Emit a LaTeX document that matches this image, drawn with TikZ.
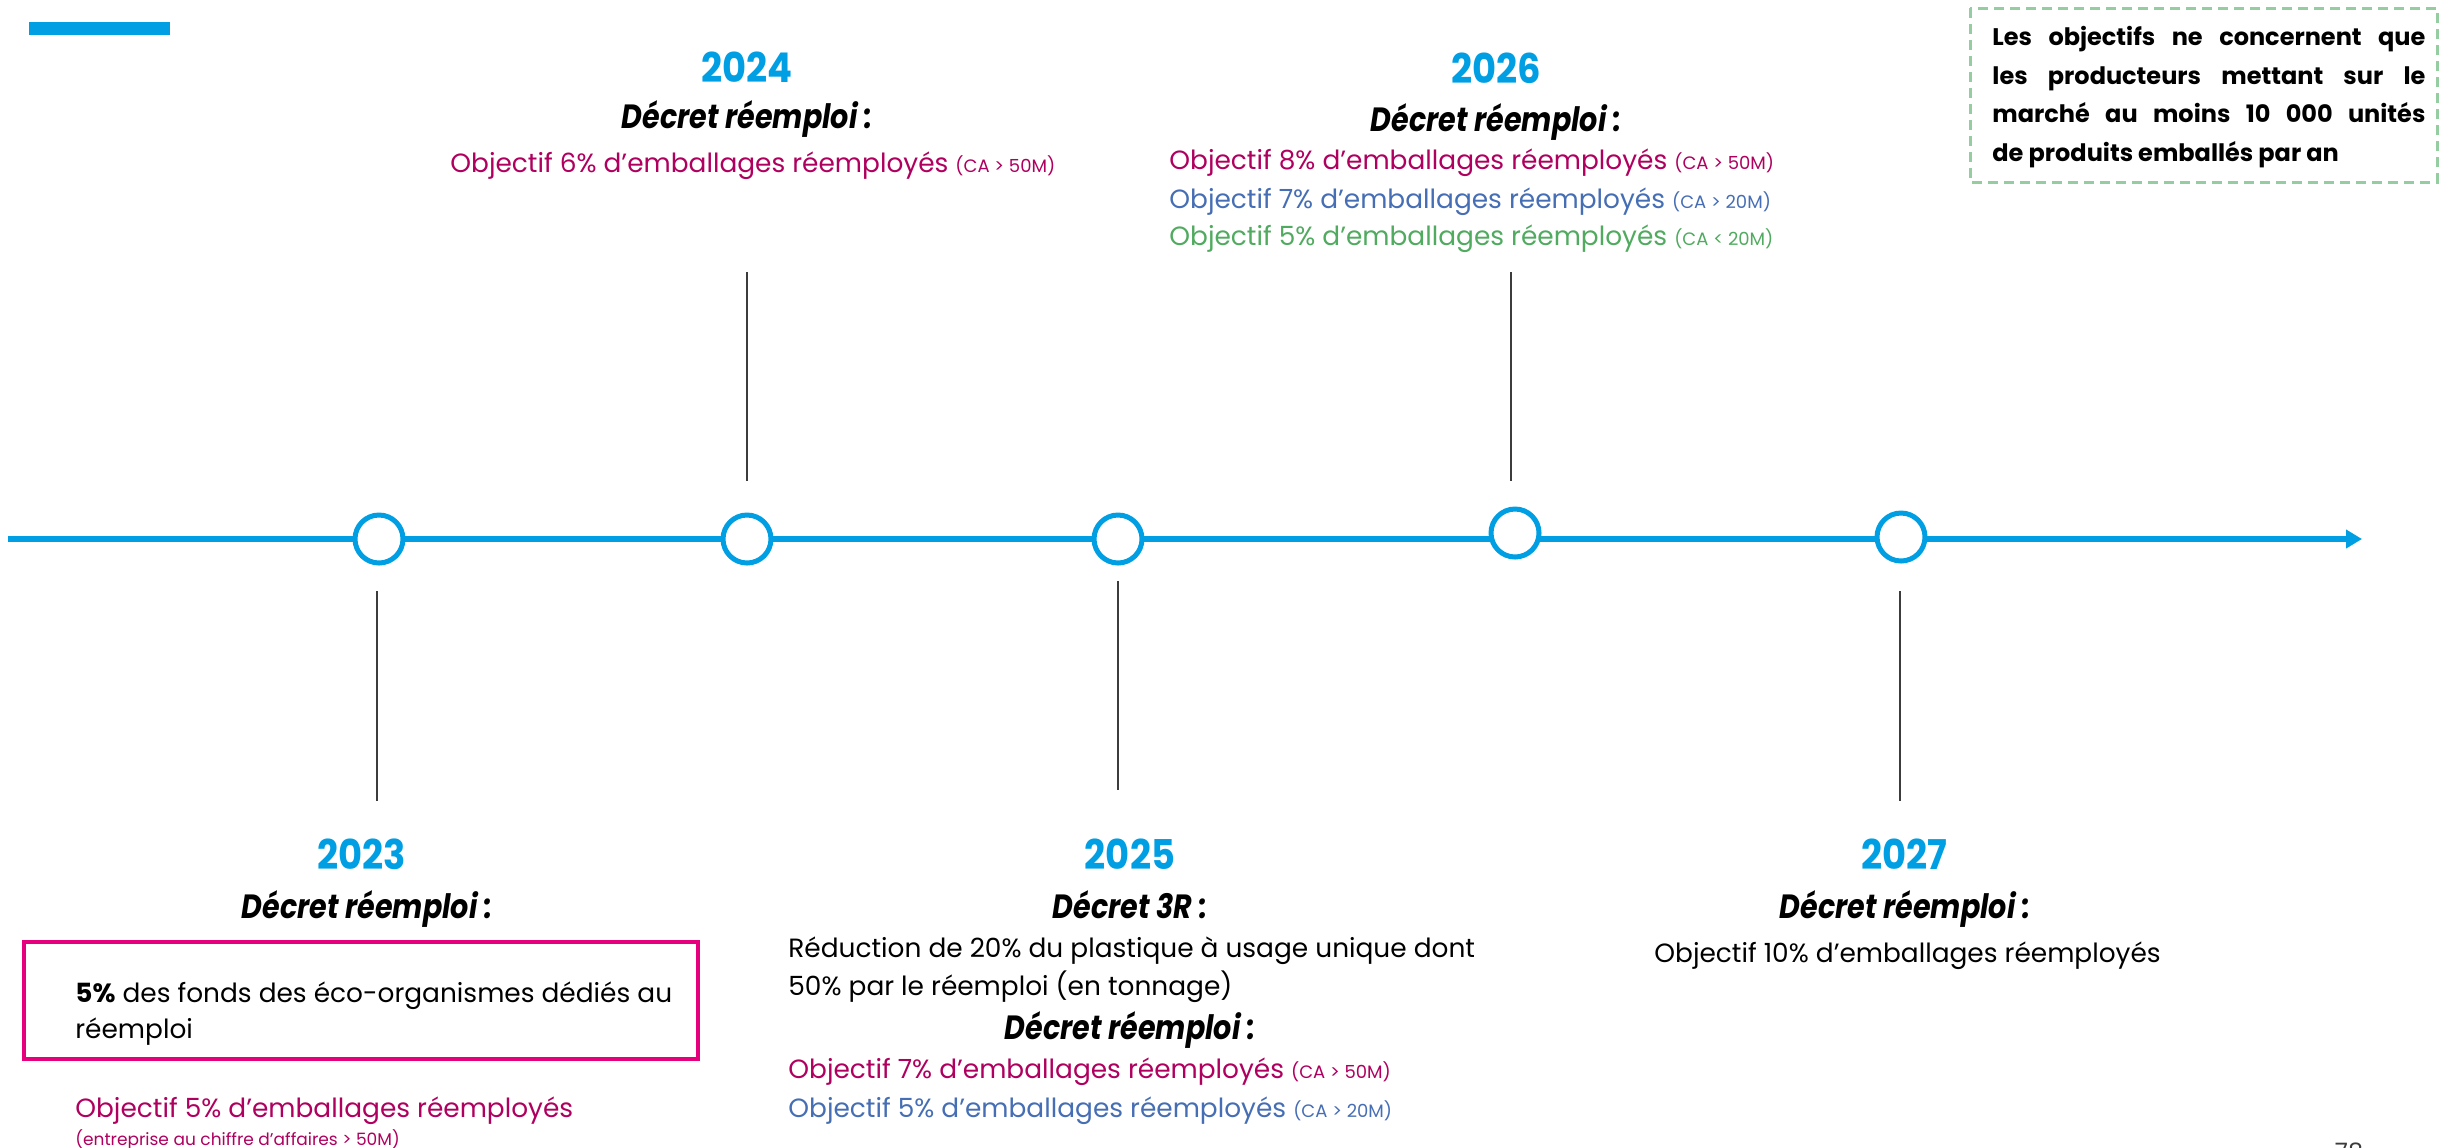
\documentclass[tikz,border=0pt]{standalone}
\usepackage{fontspec}
\setmainfont{Poppins}
\newfontfamily\yearfont{Poppins}[FakeStretch=0.9]
\newfontfamily\decfont{Poppins}[FakeStretch=0.85]
\usetikzlibrary{arrows.meta}
\definecolor{tlblue}{RGB}{0,159,227}
\definecolor{mag}{RGB}{175,0,95}
\definecolor{bluet}{RGB}{70,110,180}
\definecolor{greent}{RGB}{80,170,95}
\definecolor{pinkbox}{RGB}{230,0,126}
\definecolor{dashgreen}{RGB}{150,205,160}
\definecolor{vline}{RGB}{60,60,60}
\tikzset{
  year/.style={font=\yearfont\fontsize{20.5}{20.5}\selectfont\bfseries, text=tlblue, inner sep=0pt, anchor=mid},
  decret/.style={font=\decfont\fontsize{16.8}{16.8}\selectfont\bfseries\itshape, inner sep=0pt, anchor=mid},
  body/.style={font=\fontsize{13.2}{13.2}\selectfont, inner sep=0pt, anchor=mid west},
  notetxt/.style={font=\fontsize{12}{12}\selectfont\bfseries, inner sep=0pt, anchor=mid west},
  dot/.style={circle, draw=tlblue, line width=2.5pt, fill=white, minimum size=24pt, inner sep=0pt},
  tick/.style={draw=vline, line width=0.8pt},
}
\newcommand{\smallca}[1]{{\fontsize{9}{9}\selectfont #1}}
\begin{document}
\begin{tikzpicture}[x=0.5pt, y=-0.5pt]
\useasboundingbox (0,0) rectangle (2445,1147);
% top-left bar
\fill[tlblue] (29,22) rectangle (170,35);
% axis
\coordinate (axs) at (8,539);
\coordinate (axe) at (2362,539);
\draw[tlblue, line width=3pt, -{Triangle[length=8pt,width=9pt]}] (axs) -- (axe);
% dots
\node[dot] (c23) at (379,539) {};
\node[dot] (c24) at (747,539) {};
\node[dot] (c25) at (1118,539) {};
\node[dot] (c26) at (1515,533) {};
\node[dot] (c27) at (1901,537) {};
% ticks
\coordinate (t24a) at (747,272); \coordinate (t24b) at (747,481);
\coordinate (t26a) at (1511,272); \coordinate (t26b) at (1511,481);
\coordinate (t23a) at (377,591); \coordinate (t23b) at (377,801);
\coordinate (t25a) at (1118,581); \coordinate (t25b) at (1118,790);
\coordinate (t27a) at (1900,591); \coordinate (t27b) at (1900,801);
\draw[tick] (t24a) -- (t24b);
\draw[tick] (t26a) -- (t26b);
\draw[tick] (t23a) -- (t23b);
\draw[tick] (t25a) -- (t25b);
\draw[tick] (t27a) -- (t27b);
% 2024
\node[year] (y24) at (747,77) {2024};
\node[decret] (d24) at (747,123) {Décret réemploi :};
\node[body, text=mag] (o24) at (450,167) {Objectif 6\% d’emballages réemployés \smallca{(CA > 50M)}};
% 2026
\node[year] (y26) at (1496,78) {2026};
\node[decret] (d26) at (1496,126) {Décret réemploi :};
\node[body, text=mag] (o26a) at (1169,164) {Objectif 8\% d’emballages réemployés \smallca{(CA > 50M)}};
\node[body, text=bluet] (o26b) at (1169,203) {Objectif 7\% d’emballages réemployés \smallca{(CA > 20M)}};
\node[body, text=greent] (o26c) at (1169,240) {Objectif 5\% d’emballages réemployés \smallca{(CA < 20M)}};
% note box
\draw[dashgreen, line width=1.5pt, dash pattern=on 5pt off 3pt] (1970,8) rectangle (2437,182);
\node[notetxt] (n1) at (1992,40) {\makebox[216.5pt][s]{Les objectifs ne concernent que}};
\node[notetxt] (n2) at (1992,79) {\makebox[216.5pt][s]{les producteurs mettant sur le}};
\node[notetxt] (n3) at (1992,117) {\makebox[216.5pt][s]{marché au moins 10 000 unités}};
\node[notetxt] (n4) at (1992,156) {de produits emballés par an};
% 2023
\node[year] (y23) at (362,864) {2023};
\node[decret] (d23) at (367,913) {Décret réemploi :};
\draw[pinkbox, line width=2pt] (24,942) rectangle (698,1059);
\node[body] (b23a) at (75,997) {{\bfseries 5\%} des fonds des éco-organismes dédiés au};
\node[body] (b23b) at (75,1033) {réemploi};
\node[body, text=mag] (o23) at (75,1112) {Objectif 5\% d’emballages réemployés};
\node[body, text=mag, font=\fontsize{8.5}{8.5}\selectfont] (s23) at (75,1140) {(entreprise au chiffre d’affaires > 50M)};
% 2025
\node[year] (y25) at (1130,864) {2025};
\node[decret] (d25) at (1130,913) {Décret 3R :};
\node[body] (r25a) at (788,952) {Réduction de 20\% du plastique à usage unique dont};
\node[body] (r25b) at (788,990) {50\% par le réemploi (en tonnage)};
\node[decret] (d25b) at (1130,1034) {Décret réemploi :};
\node[body, text=mag] (o25a) at (788,1073) {Objectif 7\% d’emballages réemployés \smallca{(CA > 50M)}};
\node[body, text=bluet] (o25b) at (788,1112) {Objectif 5\% d’emballages réemployés \smallca{(CA > 20M)}};
% 2027
\node[year] (y27) at (1904,864) {2027};
\node[decret] (d27) at (1905,913) {Décret réemploi :};
\node[body] (o27) at (1654,957) {Objectif 10\% d’emballages réemployés};
% page number
\node[font=\fontsize{12}{12}\selectfont, text=vline, inner sep=0pt, anchor=base] (pg) at (2349,1160) {78};
\end{tikzpicture}
\end{document}
